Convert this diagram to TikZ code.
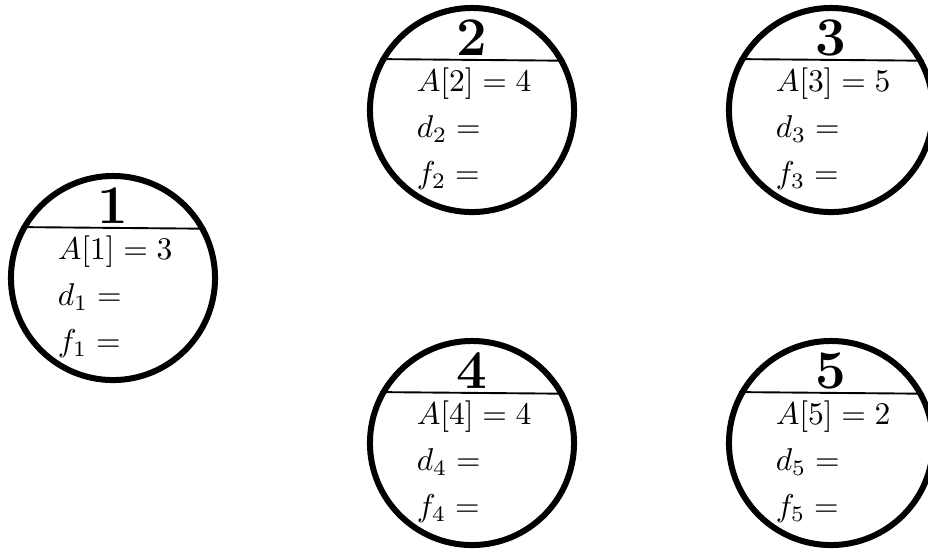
\documentclass[tikz,border=0pt]{standalone}
\usepackage{amsmath,amssymb}
\usepackage{tikz}
\usetikzlibrary{positioning,calc}
\tikzset{
	vertex/.style={circle, draw, line width=1.9pt, minimum size=64.7pt, inner sep=0pt},
	divider/.style={semithick},
	vnum/.style={font=\LARGE\bfseries, anchor=base, inner sep=0pt},
	field/.style={anchor=base west, inner sep=0pt}
}
\begin{document}
\begin{tikzpicture}[x=0.317pt, y=-0.317pt]
				\useasboundingbox (0,0) rectangle (928,551);
				
				%% ── Vertices ────────────────────────────────────────────────────
				\node[vertex] (v1) at (113,278) {};
				\node[vertex] (v2) at (472,110) {};
				\node[vertex] (v3) at (831,110) {};
				\node[vertex] (v4) at (472,443) {};
				\node[vertex] (v5) at (831,443) {};
				
				%% ── Vertex 1 ────────────────────────────────────────────────────
				\draw[divider] (v1.151.3) -- (v1.28.7);
				\node[vnum] (n1) at ([yshift=17.4pt] v1.center) {1};
				\node[field] (a1) at ([xshift=-17.7pt, yshift=6pt] v1.center) {$A[1] = 3$};
				\node[field] (d1) at ([yshift=-14.7pt] a1.base west) {$d_1 =$};
				\node[field] (f1) at ([yshift=-14.7pt] d1.base west) {$f_1 =$};
				
				%% ── Vertex 2 ────────────────────────────────────────────────────
				\draw[divider] (v2.151.3) -- (v2.28.7);
				\node[vnum] (n2) at ([yshift=17.4pt] v2.center) {2};
				\node[field] (a2) at ([xshift=-17.7pt, yshift=6pt] v2.center) {$A[2] = 4$};
				\node[field] (d2) at ([yshift=-14.7pt] a2.base west) {$d_2 =$};
				\node[field] (f2) at ([yshift=-14.7pt] d2.base west) {$f_2 =$};
				
				%% ── Vertex 3 ────────────────────────────────────────────────────
				\draw[divider] (v3.151.3) -- (v3.28.7);
				\node[vnum] (n3) at ([yshift=17.4pt] v3.center) {3};
				\node[field] (a3) at ([xshift=-17.7pt, yshift=6pt] v3.center) {$A[3] = 5$};
				\node[field] (d3) at ([yshift=-14.7pt] a3.base west) {$d_3 =$};
				\node[field] (f3) at ([yshift=-14.7pt] d3.base west) {$f_3 =$};
				
				%% ── Vertex 4 ────────────────────────────────────────────────────
				\draw[divider] (v4.151.3) -- (v4.28.7);
				\node[vnum] (n4) at ([yshift=17.4pt] v4.center) {4};
				\node[field] (a4) at ([xshift=-17.7pt, yshift=6pt] v4.center) {$A[4] = 4$};
				\node[field] (d4) at ([yshift=-14.7pt] a4.base west) {$d_4 =$};
				\node[field] (f4) at ([yshift=-14.7pt] d4.base west) {$f_4 =$};
				
				%% ── Vertex 5 ────────────────────────────────────────────────────
				\draw[divider] (v5.151.3) -- (v5.28.7);
				\node[vnum] (n5) at ([yshift=17.4pt] v5.center) {5};
				\node[field] (a5) at ([xshift=-17.7pt, yshift=6pt] v5.center) {$A[5] = 2$};
				\node[field] (d5) at ([yshift=-14.7pt] a5.base west) {$d_5 =$};
				\node[field] (f5) at ([yshift=-14.7pt] d5.base west) {$f_5 =$};
			\end{tikzpicture}
\end{document}
